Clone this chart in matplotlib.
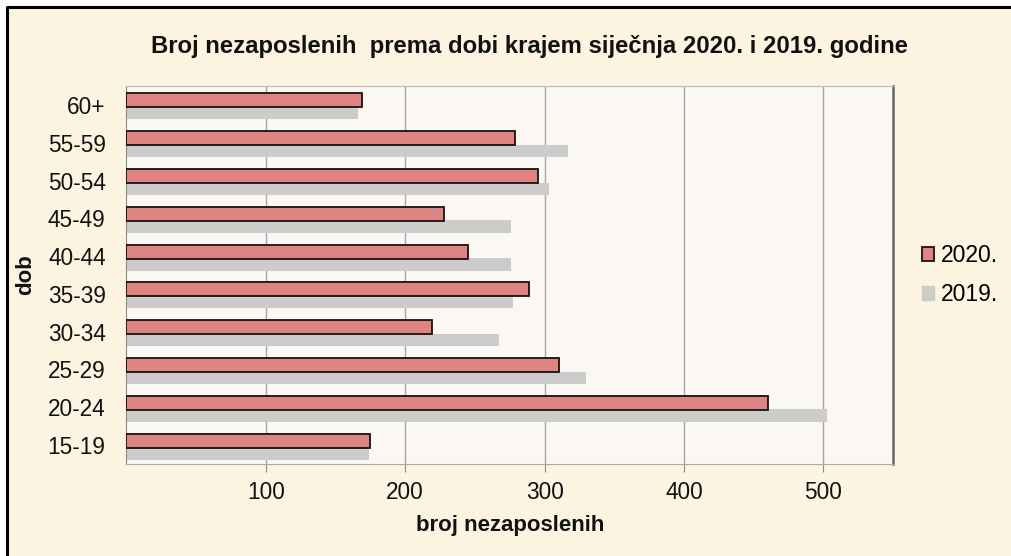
import matplotlib
matplotlib.use("Agg")
import matplotlib.pyplot as plt
from matplotlib.patches import Rectangle, Patch
from matplotlib.lines import Line2D

plt.rcParams['font.family'] = ['Liberation Sans', 'DejaVu Sans']

categories = ["15-19", "20-24", "25-29", "30-34", "35-39", "40-44", "45-49", "50-54", "55-59", "60+"]
values_2020 = [175, 460, 310, 219, 289, 245, 228, 295, 279, 169]
values_2019 = [174, 503, 330, 267, 277, 276, 276, 303, 317, 166]
series_labels = ["2020.", "2019."]
xticks = [100, 200, 300, 400, 500]

BG = "#FCF4E1"
PLOT_BG = "#FBF8F3"
RED = "#DE8482"
GRAY = "#CCCCCC"

fig = plt.figure(figsize=(10.12, 5.56), dpi=100)
fig.patch.set_facecolor("white")
x0 = 7 / 1012
y1 = 1 - 7 / 556
fig.patches.append(Rectangle((x0, 0), 1 - x0, y1, transform=fig.transFigure,
                             facecolor=BG, edgecolor="none", zorder=-10))
fig.lines.append(Line2D([x0, x0, 1.0], [0, y1, y1], transform=fig.transFigure,
                        color="black", linewidth=2.2, zorder=-9))

ax = fig.add_axes([126.5/1012, 92/556, (893-126.5)/1012, (464-86)/556])
ax.set_zorder(1)
ax.set_facecolor(PLOT_BG)

y = list(range(len(categories)))
ax.barh([v - 0.22 for v in y], values_2019, height=0.33, color=GRAY, zorder=2, label=series_labels[1])
ax.barh([v + 0.12 for v in y], values_2020, height=0.37, color=RED, edgecolor="#1a1010",
        linewidth=1.3, zorder=3, label=series_labels[0])

ax.set_xlim(0, 550)
ax.set_ylim(-0.5, len(categories) - 0.5)
ax.set_xticks(xticks)
ax.set_yticks(y)
ax.set_yticklabels(categories)
ax.grid(axis="x", color="#7a7a7a", linewidth=1.0)
for l in ax.get_xgridlines():
    l.set_zorder(4)
    l.set_alpha(0.65)

ax.tick_params(axis="both", labelsize=16.3, colors="#8a8a8a", labelcolor="#111111")
ax.tick_params(axis="y", length=0, pad=15)
ax.tick_params(axis="x", length=6, pad=6)
ax.spines["left"].set_color("#8a8a8a")
ax.spines["bottom"].set_color("#aaaaaa")
ax.spines["top"].set_color("#bbbbbb")
ax.spines["right"].set_color("#666666")
ax.spines["right"].set_linewidth(1.8)

ax.set_xlabel("broj nezaposlenih", fontsize=16, fontweight="bold", labelpad=8, color="#111111")
ax.set_ylabel("dob", fontsize=16, fontweight="bold", color="#111111")
ax.yaxis.set_label_coords(-0.118, 0.5)

fig.text(0.5236, 1 - 47/556, "Broj nezaposlenih  prema dobi krajem siječnja 2020. i 2019. godine",
         ha="center", va="center", fontsize=17.2, fontweight="bold", color="#111111")

handles = [Patch(facecolor=RED, edgecolor="#1a1010", linewidth=1.3),
           Patch(facecolor=GRAY, edgecolor=GRAY)]
fig.legend(handles, series_labels, loc="center left", bbox_to_anchor=(901/1012, 1 - 275/556),
           frameon=False, fontsize=16.5, handlelength=0.55, handleheight=0.6,
           handletextpad=0.3, labelspacing=0.7)

fig.savefig("out.png", dpi=100, facecolor=fig.get_facecolor())
